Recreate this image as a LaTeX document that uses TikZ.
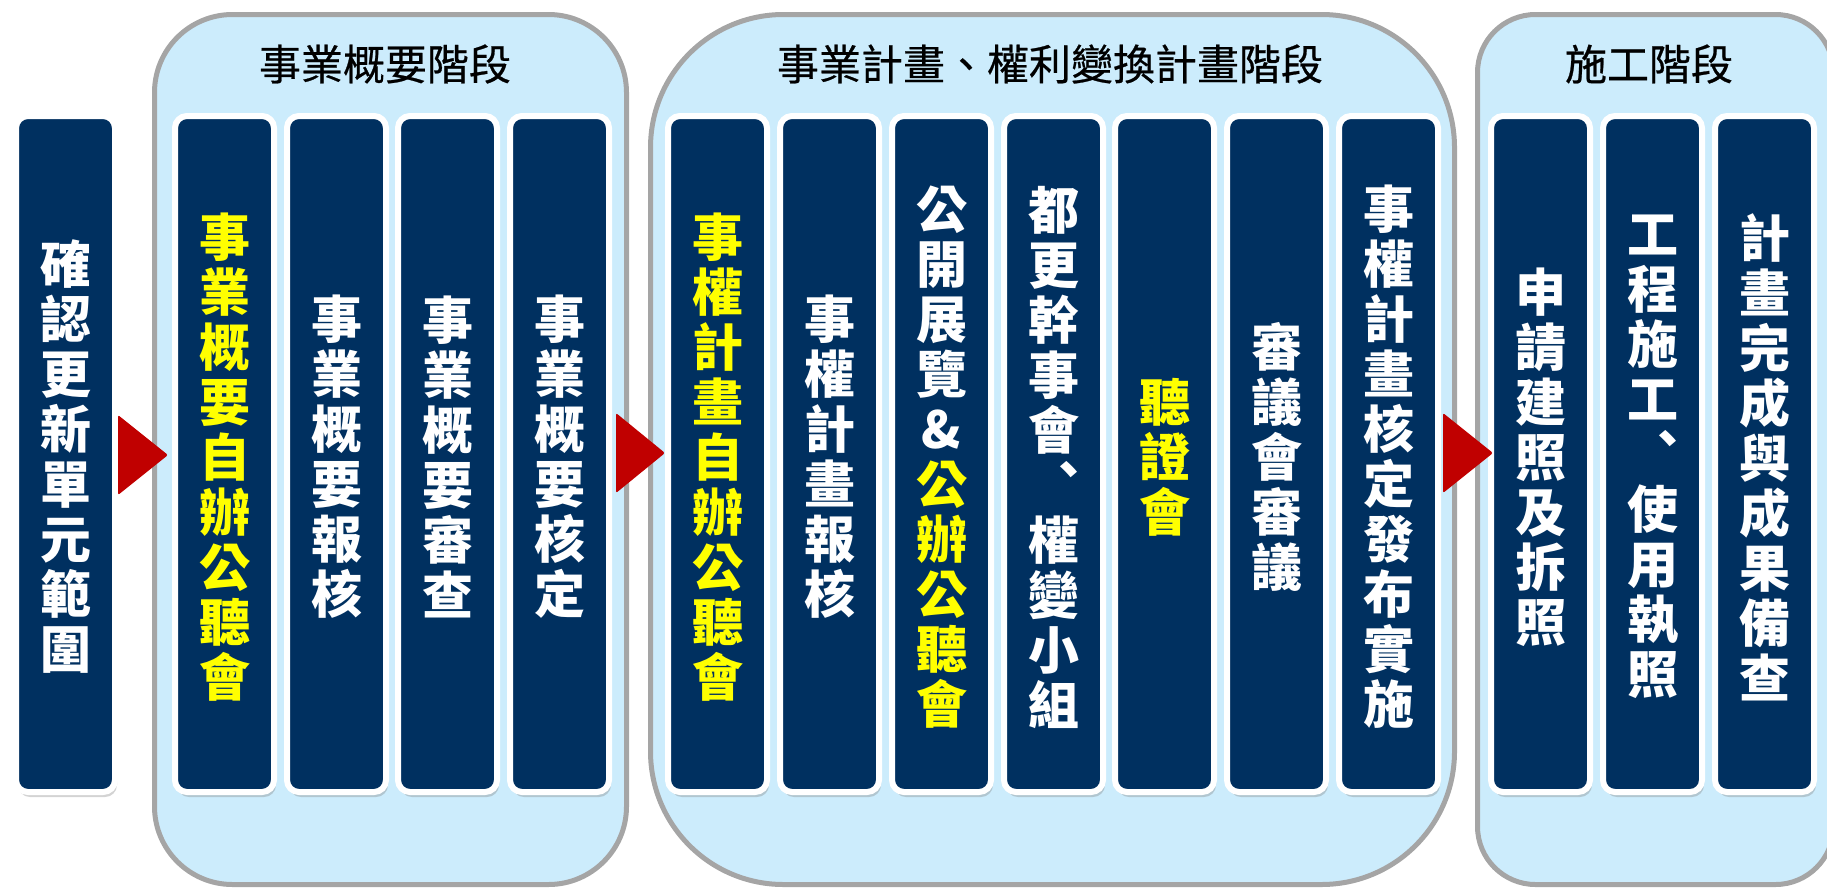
\documentclass[tikz,border=0pt]{standalone}
\usepackage{fontspec}
\newfontfamily\cjk{Noto Sans CJK TC}
\newfontfamily\cjkt{Noto Sans CJK TC}[FakeBold=0.6]
\usetikzlibrary{shadows}
\definecolor{navy}{RGB}{0,48,96}
\definecolor{panelfill}{RGB}{204,236,252}
\definecolor{panelline}{RGB}{165,165,165}
\definecolor{arrowred}{RGB}{192,0,0}
\definecolor{yel}{RGB}{255,255,0}
\newcommand{\yl}[1]{\textcolor{yel}{#1}}
\begin{document}
\begin{tikzpicture}[x=1pt,y=-1pt,
  panel/.style={draw=panelline, line width=5pt, fill=panelfill, minimum height=870pt, inner sep=0pt},
  stepbox/.style={draw=white, line width=6pt, fill=navy, rounded corners=12pt, minimum width=99pt, minimum height=676pt, inner sep=0pt,
    drop shadow={opacity=0.35, shadow xshift=2pt, shadow yshift=-5pt}},
  boxtext/.style={text=white, align=center, font=\cjk\bfseries\fontsize{51}{55}\selectfont, inner sep=0pt},
  ytext/.style={boxtext, text=yel},
  title/.style={font=\cjkt\fontsize{42}{46}\selectfont, text=black, inner sep=0pt},
  arrowtri/.style={fill=arrowred, rounded corners=2pt}]
\useasboundingbox (0,0) rectangle (1827,889);
% panels
\node[panel, minimum width=472pt, rounded corners=78pt] (p1) at (390.5,449.5) {};
\node[panel, minimum width=804pt, rounded corners=133pt] (p2) at (1052.5,449.5) {};
\node[panel, minimum width=356pt, rounded corners=58pt] (p3) at (1655.5,449.5) {};
\node[title] (h1) at (385,64) {事業概要階段};
\node[title] (h2) at (1050,64) {事業計畫、權利變換計畫階段};
\node[title] (h3) at (1649,64) {施工階段};
% boxes
\node[stepbox] (b0) at (65.5,454) {};
\node[stepbox] (b1) at (224.5,454) {};
\node[stepbox] (b2) at (336.5,454) {};
\node[stepbox] (b3) at (447.5,454) {};
\node[stepbox] (b4) at (559.5,454) {};
\node[stepbox] (b5) at (717.5,454) {};
\node[stepbox] (b6) at (829.5,454) {};
\node[stepbox] (b7) at (941.5,454) {};
\node[stepbox] (b8) at (1053.5,454) {};
\node[stepbox] (b9) at (1164.5,454) {};
\node[stepbox] (b10) at (1276.5,454) {};
\node[stepbox] (b11) at (1388.5,454) {};
\node[stepbox] (b12) at (1540.5,454) {};
\node[stepbox] (b13) at (1652.5,454) {};
\node[stepbox] (b14) at (1764.5,454) {};
% texts
\node[boxtext] (t0) at ([yshift=-3pt]b0.center) {確\\認\\更\\新\\單\\元\\範\\圍};
\node[ytext] (t1) at ([yshift=-3pt]b1.center) {事\\業\\概\\要\\自\\辦\\公\\聽\\會};
\node[boxtext] (t2) at ([yshift=-3pt]b2.center) {事\\業\\概\\要\\報\\核};
\node[boxtext] (t3) at ([yshift=-3pt]b3.center) {事\\業\\概\\要\\審\\查};
\node[boxtext] (t4) at ([yshift=-3pt]b4.center) {事\\業\\概\\要\\核\\定};
\node[ytext] (t5) at ([yshift=-3pt]b5.center) {事\\權\\計\\畫\\自\\辦\\公\\聽\\會};
\node[boxtext] (t6) at ([yshift=-3pt]b6.center) {事\\權\\計\\畫\\報\\核};
\node[boxtext] (t7) at ([yshift=-3pt]b7.center) {公\\開\\展\\覽\\\&\\\yl{公}\\\yl{辦}\\\yl{公}\\\yl{聽}\\\yl{會}};
\node[boxtext] (t8) at ([yshift=-3pt]b8.center) {都\\更\\幹\\事\\會\\︑\\權\\變\\小\\組};
\node[ytext] (t9) at ([yshift=-3pt]b9.center) {聽\\證\\會};
\node[boxtext] (t10) at ([yshift=-3pt]b10.center) {審\\議\\會\\審\\議};
\node[boxtext] (t11) at ([yshift=-3pt]b11.center) {事\\權\\計\\畫\\核\\定\\發\\布\\實\\施};
\node[boxtext] (t12) at ([yshift=-3pt]b12.center) {申\\請\\建\\照\\及\\拆\\照};
\node[boxtext] (t13) at ([yshift=-3pt]b13.center) {工\\程\\施\\工\\︑\\使\\用\\執\\照};
\node[boxtext] (t14) at ([yshift=-3pt]b14.center) {計\\畫\\完\\成\\與\\成\\果\\備\\查};
% arrows
\fill[arrowtri] (b0.east |- 0,415) -- (168,455) -- (b0.east |- 0,495) -- cycle;
\fill[arrowtri] (616,413) -- (665,453) -- (616,493) -- cycle;
\fill[arrowtri] (1443,413) -- (1493,453) -- (1443,493) -- cycle;
\end{tikzpicture}
\end{document}
